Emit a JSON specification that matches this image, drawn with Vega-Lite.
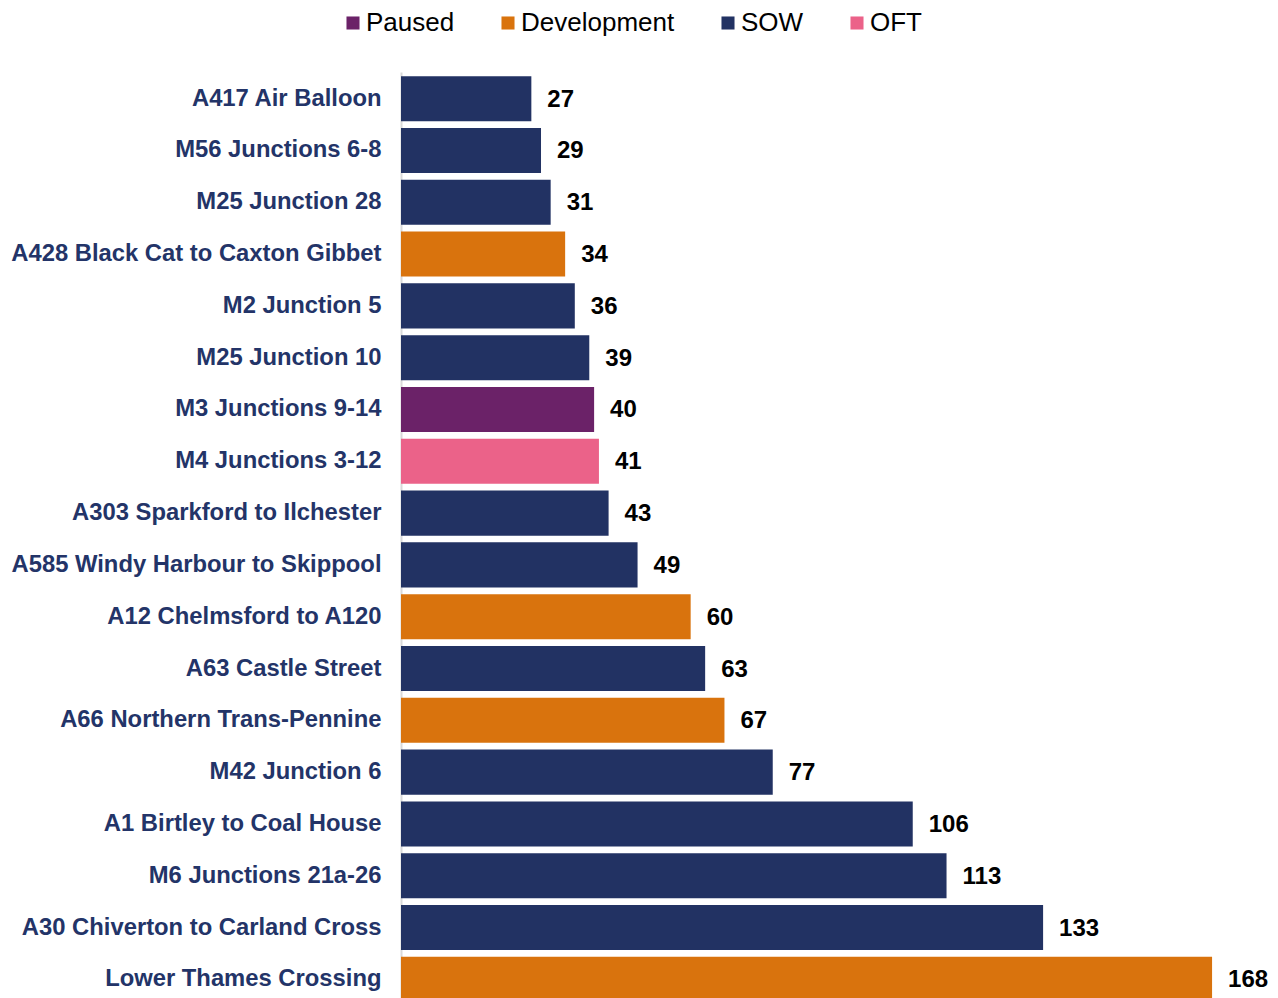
{
  "$schema": "https://vega.github.io/schema/vega-lite/v6.json",
  "autosize": "none",
  "width": 869,
  "height": 934,
  "padding": {"left": 401, "top": 72, "right": 8, "bottom": -8},
  "background": "white",
  "config": {"view": {"stroke": null}, "font": "Liberation Sans"},
  "data": {"values": [
    {"scheme": "A417 Air Balloon", "value": 27, "status": "SOW"},
    {"scheme": "M56 Junctions 6-8", "value": 29, "status": "SOW"},
    {"scheme": "M25 Junction 28", "value": 31, "status": "SOW"},
    {"scheme": "A428 Black Cat to Caxton Gibbet", "value": 34, "status": "Development"},
    {"scheme": "M2 Junction 5", "value": 36, "status": "SOW"},
    {"scheme": "M25 Junction 10", "value": 39, "status": "SOW"},
    {"scheme": "M3 Junctions 9-14", "value": 40, "status": "Paused"},
    {"scheme": "M4 Junctions 3-12", "value": 41, "status": "OFT"},
    {"scheme": "A303 Sparkford to Ilchester", "value": 43, "status": "SOW"},
    {"scheme": "A585 Windy Harbour to Skippool", "value": 49, "status": "SOW"},
    {"scheme": "A12 Chelmsford to A120", "value": 60, "status": "Development"},
    {"scheme": "A63 Castle Street", "value": 63, "status": "SOW"},
    {"scheme": "A66 Northern Trans-Pennine", "value": 67, "status": "Development"},
    {"scheme": "M42 Junction 6", "value": 77, "status": "SOW"},
    {"scheme": "A1 Birtley to Coal House", "value": 106, "status": "SOW"},
    {"scheme": "M6 Junctions 21a-26", "value": 113, "status": "SOW"},
    {"scheme": "A30 Chiverton to Carland Cross", "value": 133, "status": "SOW"},
    {"scheme": "Lower Thames Crossing", "value": 168, "status": "Development"}
  ]},
  "encoding": {
    "y": {
      "field": "scheme", "type": "nominal", "sort": null,
      "scale": {"paddingInner": 0.13, "paddingOuter": 0.08},
      "axis": {
        "title": null, "ticks": false, "labelPadding": 20,
        "labelFont": "Liberation Sans", "labelFontSize": 23.8, "labelFontWeight": "bold",
        "labelColor": "#233468", "domainColor": "#D9D9D9", "domainWidth": 2, "labelLimit": 400
      }
    },
    "x": {
      "field": "value", "type": "quantitative",
      "scale": {"domain": [0, 180], "nice": false},
      "axis": null
    }
  },
  "layer": [
    {
      "mark": {"type": "bar"},
      "encoding": {
        "color": {
          "field": "status", "type": "nominal",
          "scale": {"domain": ["Paused", "Development", "SOW", "OFT"], "range": ["#6B2268", "#D9730D", "#223263", "#EB6289"]},
          "legend": {
            "title": null, "orient": "none", "direction": "horizontal",
            "legendX": -61, "legendY": -62, "padding": 0,
            "symbolType": "square", "symbolSize": 170, "symbolStrokeWidth": 0,
            "labelFont": "Liberation Sans", "labelFontSize": 26, "labelColor": "#000000",
            "labelOffset": 0, "columnPadding": 40, "labelLimit": 300
          }
        }
      }
    },
    {
      "mark": {"type": "text", "align": "left", "baseline": "middle", "dx": 16, "dy": 1,
        "font": "Liberation Sans", "fontSize": 24, "fontWeight": "bold", "color": "#000000"},
      "encoding": {"text": {"field": "value", "type": "quantitative"}}
    }
  ]
}
